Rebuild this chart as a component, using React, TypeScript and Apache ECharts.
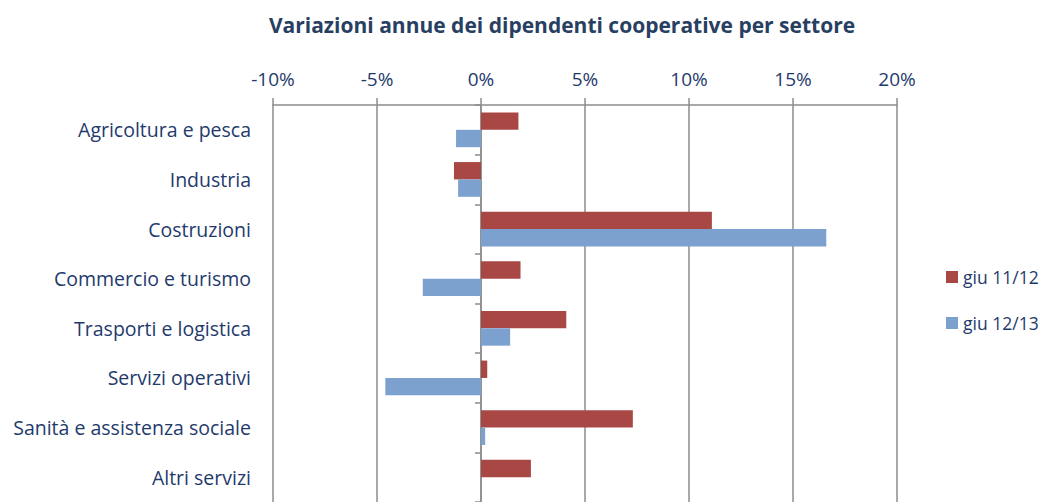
import React, { useEffect, useRef } from "react";
import * as echarts from "echarts";

const categories = [
  "Agricoltura e pesca",
  "Industria",
  "Costruzioni",
  "Commercio e turismo",
  "Trasporti e logistica",
  "Servizi operativi",
  "Sanità e assistenza sociale",
  "Altri servizi",
];
const seriesNames = ["giu 11/12", "giu 12/13"];
const giu1112 = [1.8, -1.3, 11.1, 1.9, 4.1, 0.3, 7.3, 2.4];
const giu1213 = [-1.2, -1.1, 16.6, -2.8, 1.4, -4.6, 0.2, null];
const xTicks = { min: -10, max: 20, interval: 5 };

const NAVY = "#1F3A6C";
const GRIDC = "#8C8C8C";
const FONT = "Open Sans";

export default function App() {
  const ref = useRef<HTMLDivElement>(null);
  useEffect(() => {
    if (!ref.current) return;
    const chart = echarts.init(ref.current, null, { renderer: "svg" });
    chart.setOption({
      animation: false,
      textStyle: { fontFamily: FONT },
      title: {
        text: "Variazioni annue dei dipendenti cooperative per settore",
        left: 557,
        textAlign: "center",
        top: 9,
        textStyle: { fontFamily: FONT, fontSize: 21, fontWeight: "bold", color: "#283F62" },
      },
      legend: {
        orient: "vertical",
        left: 941,
        top: 263,
        itemWidth: 12,
        itemHeight: 12,
        itemGap: 28,
        icon: "rect",
        textStyle: { fontFamily: FONT, fontSize: 17.5, color: NAVY },
        data: seriesNames,
      },
      grid: { left: 273, top: 105, width: 624, height: 402, containLabel: false },
      xAxis: {
        type: "value",
        position: "top",
        min: xTicks.min,
        max: xTicks.max,
        interval: xTicks.interval,
        axisLine: { show: true, onZero: false, lineStyle: { color: GRIDC, width: 1.5 } },
        axisTick: { show: true, length: 7, lineStyle: { color: GRIDC, width: 1.5 } },
        splitLine: { show: true, lineStyle: { color: GRIDC, width: 1.5 } },
        axisLabel: {
          formatter: (v: number) => `${v}%`,
          fontFamily: FONT,
          fontSize: 19,
          color: NAVY,
          margin: 17,
        },
      },
      yAxis: [
        {
          type: "category",
          data: categories,
          inverse: true,
          position: "left",
          axisLine: { show: false, onZero: false },
          axisTick: { show: false },
          axisLabel: { fontFamily: FONT, fontSize: 19.5, color: NAVY, margin: 22 },
        },
        {
          type: "category",
          data: categories,
          inverse: true,
          position: "left",
          axisLine: { show: true, onZero: true, lineStyle: { color: GRIDC, width: 1.5 } },
          axisTick: { show: true, length: 6, lineStyle: { color: GRIDC, width: 1.5 } },
          axisLabel: { show: false },
        },
      ],
      series: [
        {
          name: seriesNames[0],
          type: "bar",
          data: giu1112,
          barCategoryGap: "30%",
          barGap: "0%",
          itemStyle: { color: "#A84744" },
        },
        {
          name: seriesNames[1],
          type: "bar",
          data: giu1213,
          barCategoryGap: "30%",
          barGap: "0%",
          itemStyle: { color: "#7DA1CF" },
        },
      ],
    });
    return () => chart.dispose();
  }, []);
  return (
    <div
      ref={ref}
      style={{ position: "fixed", left: 0, top: 0, width: 1048, height: 502, background: "#fff" }}
    />
  );
}
